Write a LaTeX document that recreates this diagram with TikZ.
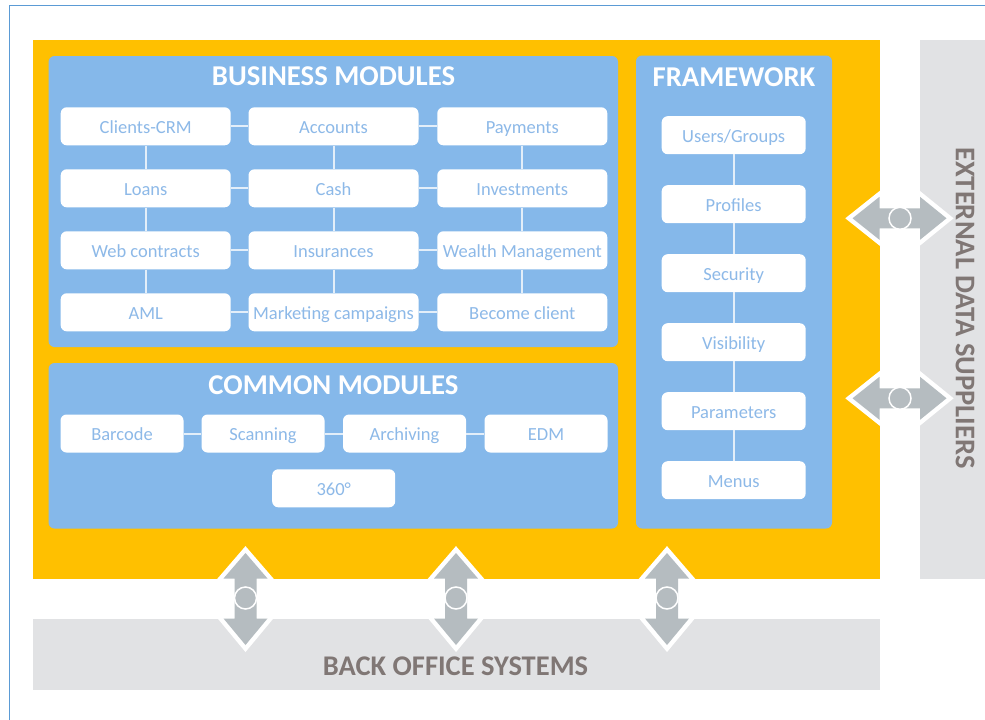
\documentclass[tikz,border=0pt]{standalone}
\usepackage{fontspec}
\setmainfont{Carlito}
\definecolor{gold}{HTML}{FFC000}
\definecolor{panel}{HTML}{85B8EA}
\definecolor{boxtxt}{HTML}{8DB9E8}
\definecolor{linkc}{HTML}{E3EEF9}
\definecolor{greybar}{HTML}{E1E2E4}
\definecolor{greytxt}{HTML}{807775}
\definecolor{arrowgrey}{HTML}{B5BCC0}
\definecolor{frameline}{HTML}{5B9BD5}
\begin{document}
\begin{tikzpicture}[x=1pt,y=-1pt,
  panelbox/.style={fill=panel, rounded corners=6pt},
  modbox/.style={fill=white, rounded corners=6pt, minimum height=38pt, inner sep=0pt,
    text=boxtxt, font=\fontsize{18.5}{22}\selectfont, text height=13.6pt, text depth=0pt},
  bizbox/.style={modbox, minimum width=170pt},
  combox/.style={modbox, minimum width=123pt},
  fwbox/.style={modbox, minimum width=144pt},
  link/.style={draw=linkc, line width=2pt},
  paneltitle/.style={text=white, font=\fontsize{28.7}{32}\selectfont\bfseries},
  bartitle/.style={text=greytxt, font=\fontsize{28.5}{32}\selectfont\bfseries},
  arrowline/.style={draw=white, line width=9pt, line join=miter},
  arrowfill/.style={fill=arrowgrey},
  hub/.style={circle, fill=arrowgrey, draw=white, line width=1.5pt, minimum size=22pt, inner sep=0pt}
]
\useasboundingbox (0,0) rectangle (985,720);
\fill[white] (0,0) rectangle (985,720);
% outer frame lines
\coordinate (fa) at (9.4,720);
\coordinate (fb) at (9.4,5.5);
\coordinate (fc) at (985,5.5);
\draw[frameline, line width=1pt] (fa) -- (fb) -- (fc);

% background areas
\fill[gold] (32.5,40) rectangle (879.5,578.5);
\fill[greybar] (920,40) rectangle (985,578.5);
\fill[greybar] (32.5,618.5) rectangle (879.5,689.5);
\node[bartitle] (bo) at (455.5,666) {BACK OFFICE SYSTEMS};
\node[bartitle, rotate=-90] (ext) at (965,308) {EXTERNAL DATA SUPPLIERS};

% panels
\fill[panelbox] (48.5,56) rectangle (618,347);
\fill[panelbox] (48.5,363) rectangle (618,528.5);
\fill[panelbox] (636,55.5) rectangle (832,528.5);
\node[paneltitle] (bt) at (333.5,76.5) {BUSINESS MODULES};
\node[paneltitle] (ct) at (333.5,385.5) {COMMON MODULES};
\node[paneltitle] (ft) at (734,77) {FRAMEWORK};

% business modules
\node[bizbox] (b11) at (145.7,126.3) {Clients-CRM};
\node[bizbox] (b12) at (333.5,126.3) {Accounts};
\node[bizbox] (b13) at (522.3,126.3) {Payments};
\node[bizbox] (b21) at (145.7,188.3) {Loans};
\node[bizbox] (b22) at (333.5,188.3) {Cash};
\node[bizbox] (b23) at (522.3,188.3) {Investments};
\node[bizbox] (b31) at (145.7,250.3) {Web contracts};
\node[bizbox] (b32) at (333.5,250.3) {Insurances};
\node[bizbox] (b33) at (522.3,250.3) {Wealth Management};
\node[bizbox] (b41) at (145.7,312.3) {AML};
\node[bizbox] (b42) at (333.5,312.3) {Marketing campaigns};
\node[bizbox] (b43) at (522.3,312.3) {Become client};
\foreach \r in {1,2,3,4}{
  \draw[link] (b\r1.east) -- (b\r2.west);
  \draw[link] (b\r2.east) -- (b\r3.west);
}
\foreach \c in {1,2,3}{
  \draw[link] (b1\c.south) -- (b2\c.north);
  \draw[link] (b2\c.south) -- (b3\c.north);
  \draw[link] (b3\c.south) -- (b4\c.north);
}

% common modules
\node[combox] (c1) at (122,433.5) {Barcode};
\node[combox] (c2) at (263,433.5) {Scanning};
\node[combox] (c3) at (404.5,433.5) {Archiving};
\node[combox] (c4) at (546,433.5) {EDM};
\node[combox] (c5) at (333.7,488.3) {360°};
\draw[link] (c1.east) -- (c2.west);
\draw[link] (c2.east) -- (c3.west);
\draw[link] (c3.east) -- (c4.west);

% framework
\node[fwbox] (f1) at (733.7,135.2) {Users/Groups};
\node[fwbox] (f2) at (733.7,204.2) {Profiles};
\node[fwbox] (f3) at (733.7,273.2) {Security};
\node[fwbox] (f4) at (733.7,342.2) {Visibility};
\node[fwbox] (f5) at (733.7,411.2) {Parameters};
\node[fwbox] (f6) at (733.7,480.2) {Menus};
\foreach \a/\b in {1/2,2/3,3/4,4/5,5/6}{
  \draw[link] (f\a.south) -- (f\b.north);
}

% vertical double arrows (bottom)
\foreach \cx [count=\i] in {245.5,456,667}{
  \def\vpath{(\cx,553) -- (\cx+22,578.5) -- (\cx+11,578.5) -- (\cx+11,618.5) -- (\cx+22,618.5) -- (\cx,645) -- (\cx-22,618.5) -- (\cx-11,618.5) -- (\cx-11,578.5) -- (\cx-22,578.5) -- cycle}
  \draw[arrowline] \vpath;
  \fill[arrowfill] \vpath;
  \node[hub] (v\i) at (\cx,598) {};
}
% horizontal double arrows (right)
\foreach \cy [count=\i] in {218.3,398.3}{
  \def\hpath{(852.5,\cy) -- (879.5,\cy-21.5) -- (879.5,\cy-10) -- (920,\cy-10) -- (920,\cy-21.5) -- (946.5,\cy) -- (920,\cy+21.5) -- (920,\cy+10) -- (879.5,\cy+10) -- (879.5,\cy+21.5) -- cycle}
  \draw[arrowline] \hpath;
  \fill[arrowfill] \hpath;
  \node[hub] (h\i) at (900,\cy) {};
}
\end{tikzpicture}
\end{document}
